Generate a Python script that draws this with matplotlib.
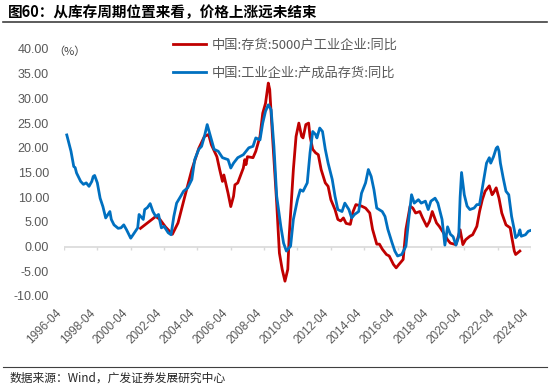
import matplotlib
matplotlib.use('Agg')
import matplotlib.pyplot as plt
from matplotlib.lines import Line2D
import pandas as pd

plt.rcParams['font.family'] = ['Liberation Sans', 'Noto Sans CJK SC']

CJK = ['Noto Sans CJK SC', 'DejaVu Sans']
GREY = '#595959'

title = '图60：从库存周期位置来看，价格上涨远未结束'
source = '数据来源：Wind，广发证券发展研究中心'
red_label = '中国:存货:5000户工业企业:同比'
blue_label = '中国:工业企业:产成品存货:同比'

red_dates = ['2000-11', '2001-05', '2001-10', '2002-01', '2002-05', '2002-10', '2003-02', '2003-07',
             '2003-12', '2004-05', '2004-09', '2004-12', '2005-02', '2005-06', '2005-08', '2005-10',
             '2005-11', '2006-02', '2006-04', '2006-06', '2006-07', '2006-09', '2007-01', '2007-02',
             '2007-03', '2007-04', '2007-08', '2007-10', '2008-01', '2008-03', '2008-05', '2008-07',
             '2008-08', '2008-10', '2009-01', '2009-03', '2009-05', '2009-07', '2009-09', '2009-10',
             '2010-01', '2010-03', '2010-05', '2010-07', '2010-08', '2010-10', '2010-12', '2011-01',
             '2011-03', '2011-05', '2011-07', '2011-09', '2011-12', '2012-02', '2012-04', '2012-07',
             '2012-09', '2012-11', '2013-01', '2013-03', '2013-06', '2013-08', '2013-10', '2014-02',
             '2014-05', '2014-08', '2014-10', '2015-01', '2015-03', '2015-05', '2015-08', '2015-10',
             '2016-01', '2016-03', '2016-05', '2016-08', '2016-10', '2017-01', '2017-03', '2017-05',
             '2017-08', '2017-10', '2018-01', '2018-03', '2018-05', '2018-08', '2018-10', '2019-01',
             '2019-04', '2019-06', '2019-10', '2020-01', '2020-03', '2020-05', '2020-08', '2020-10',
             '2021-01', '2021-03', '2021-05', '2021-07', '2021-10', '2021-12', '2022-01', '2022-03',
             '2022-05', '2022-07', '2022-10', '2023-01', '2023-02', '2023-04', '2023-05', '2023-08']
red_values = [3.7, 5.0, 6.1, 5.5, 4.0, 2.5, 4.8, 10.2,
              15.6, 19.9, 22.3, 22.7, 20.6, 18.2, 15.6, 13.2,
              14.5, 10.8, 8.1, 10.2, 12.5, 12.9, 15.9, 17.6,
              16.6, 18.2, 18.0, 19.3, 22.3, 27.0, 29.0, 33.1,
              31.8, 22.3, 8.8, -1.3, -4.6, -7.0, -4.6, 2.1,
              15.6, 22.3, 25.0, 22.3, 22.0, 24.7, 25.0, 22.3,
              19.7, 19.0, 18.6, 15.6, 12.9, 12.2, 9.5, 7.5,
              5.5, 5.2, 5.8, 4.7, 4.5, 7.1, 8.5, 8.2,
              7.8, 6.8, 3.5, 0.5, 0.5, -0.5, -1.6, -1.9,
              -3.6, -4.3, -3.6, -2.6, 3.5, 8.2, 7.8, 6.8,
              7.1, 5.8, 4.1, 5.1, 7.1, 4.8, 4.1, 2.8,
              1.4, 0.7, 0.4, 3.4, 0.4, 1.4, 2.1, 2.4,
              4.1, 7.1, 9.5, 11.2, 12.3, 10.5, 10.9, 11.9,
              9.8, 6.8, 4.4, 3.8, 2.1, -0.9, -1.6, -0.9]

blue_dates = ['1996-06', '1996-09', '1996-11', '1996-12', '1997-01', '1997-04', '1997-06', '1997-08',
              '1997-10', '1997-12', '1998-01', '1998-02', '1998-04', '1998-06', '1998-08', '1998-10',
              '1999-01', '1999-02', '1999-04', '1999-07', '1999-09', '1999-11', '2000-01', '2000-04',
              '2000-05', '2000-08', '2000-09', '2000-10', '2001-01', '2001-02', '2001-04', '2001-06',
              '2001-08', '2001-10', '2001-12', '2002-01', '2002-02', '2002-04', '2002-07', '2002-09',
              '2002-11', '2003-01', '2003-04', '2003-06', '2003-09', '2003-12', '2004-02', '2004-05',
              '2004-07', '2004-09', '2004-11', '2005-01', '2005-04', '2005-07', '2005-10', '2006-02',
              '2006-04', '2006-06', '2006-09', '2007-01', '2007-05', '2007-08', '2007-10', '2008-01',
              '2008-03', '2008-05', '2008-07', '2008-09', '2008-11', '2009-01', '2009-04', '2009-06',
              '2009-08', '2009-11', '2010-01', '2010-04', '2010-06', '2010-08', '2010-11', '2011-01',
              '2011-03', '2011-05', '2011-06', '2011-08', '2011-10', '2011-12', '2012-02', '2012-05',
              '2012-07', '2012-09', '2012-12', '2013-02', '2013-05', '2013-07', '2013-09', '2013-12',
              '2014-02', '2014-05', '2014-07', '2014-09', '2014-11', '2015-01', '2015-05', '2015-07',
              '2015-09', '2015-12', '2016-02', '2016-04', '2016-07', '2016-10', '2016-12', '2017-02',
              '2017-04', '2017-07', '2017-09', '2017-12', '2018-02', '2018-04', '2018-07', '2018-09',
              '2018-12', '2019-02', '2019-04', '2019-06', '2019-08', '2019-10', '2019-12', '2020-01',
              '2020-02', '2020-04', '2020-06', '2020-08', '2020-11', '2021-01', '2021-03', '2021-06',
              '2021-08', '2021-10', '2021-11', '2022-01', '2022-03', '2022-04', '2022-05', '2022-06',
              '2022-08', '2022-10', '2022-12', '2023-02', '2023-04', '2023-05', '2023-07', '2023-08',
              '2023-09', '2023-12', '2024-02', '2024-04']
blue_values = [22.6, 19.3, 16.2, 16.0, 14.9, 13.2, 12.6, 12.9,
               12.2, 13.2, 14.2, 14.4, 12.9, 9.8, 8.1, 5.8,
               7.1, 5.5, 4.4, 3.7, 3.8, 4.4, 3.4, 1.7,
               2.1, 3.4, 3.8, 6.5, 5.5, 7.5, 7.9, 8.7,
               7.1, 6.1, 6.5, 5.1, 3.8, 4.1, 2.8, 2.4,
               6.1, 8.8, 10.2, 11.2, 11.9, 13.6, 17.6, 19.7,
               20.3, 22.3, 24.7, 22.7, 19.7, 19.3, 18.0, 17.6,
               15.9, 16.9, 18.0, 18.6, 20.0, 20.3, 22.0, 21.6,
               25.0, 27.4, 28.7, 27.7, 20.3, 10.2, 4.1, 0.7,
               -0.9, 0.1, 5.5, 9.5, 11.5, 11.2, 12.9, 19.0,
               23.3, 22.7, 22.0, 24.0, 23.3, 19.7, 16.9, 13.6,
               10.2, 7.5, 7.1, 8.8, 7.5, 5.8, 6.5, 7.1,
               10.8, 12.9, 15.6, 14.2, 11.5, 7.8, 7.1, 6.1,
               3.5, 0.8, -0.9, -1.9, -1.6, 0.1, 5.5, 10.5,
               8.8, 9.5, 8.8, 9.2, 7.5, 9.2, 9.8, 8.8,
               5.5, 0.3, 4.0, 2.5, 2.0, 0.3, 2.0, 10.0,
               15.0, 10.5, 8.2, 7.5, 7.8, 8.5, 8.5, 13.5,
               16.9, 18.0, 16.9, 18.2, 19.9, 20.2, 19.3, 16.9,
               13.9, 11.2, 10.5, 6.1, 3.4, 1.8, 2.4, 3.4,
               2.1, 2.4, 3.1, 3.3]

tick_labels = ['1996-04', '1998-04', '2000-04', '2002-04', '2004-04', '2006-04', '2008-04', '2010-04',
               '2012-04', '2014-04', '2016-04', '2018-04', '2020-04', '2022-04', '2024-04']
y_ticks = [-10, -5, 0, 5, 10, 15, 20, 25, 30, 35, 40]

W, H = 550, 390
fig = plt.figure(figsize=(W / 100, H / 100), dpi=100)
ax = fig.add_axes([64 / W, 1 - 296 / H, (531 - 64) / W, (296 - 49) / H])

blue_x = pd.to_datetime(blue_dates)
red_x = pd.to_datetime(red_dates)
ticks = pd.to_datetime(tick_labels)

ax.axhline(0, color='#d9d9d9', lw=1.2, zorder=1)
ax.vlines(ticks, -0.7, 0, color='#d9d9d9', lw=1.0, zorder=1)

red_line, = ax.plot(red_x, red_values, color='#C00000', lw=2.0, label=red_label, zorder=3)
blue_line, = ax.plot(blue_x, blue_values, color='#0070C0', lw=2.0, label=blue_label, zorder=4)

ax.set_xlim(ticks[0], ticks[-1])
ax.set_ylim(-10, 40)
ax.set_yticks(y_ticks)
ax.set_yticklabels(['%.2f' % v for v in y_ticks])
ax.set_xticks(ticks)
ax.set_xticklabels(tick_labels, rotation=45, ha='right')

ax.tick_params(axis='y', length=0, pad=10.8, labelsize=9, labelcolor=GREY)
ax.tick_params(axis='x', length=0, pad=8, labelsize=8.5, labelcolor=GREY)
for s in ax.spines.values():
    s.set_visible(False)

fig.text(53 / W, 1 - 52 / H, '（%）', fontsize=8, va='center', color='#404040', family=CJK)

ax.legend(handles=[red_line, blue_line], loc='upper left',
          bbox_to_anchor=(173 / W, 1 - 39 / H), bbox_transform=fig.transFigure,
          frameon=False, handlelength=2.5, handletextpad=0.45, labelspacing=1.1,
          borderpad=0, borderaxespad=0, labelcolor=GREY,
          prop={'family': CJK, 'size': 9.5})

# title, rules, source
fig.text(8 / W, 1 - 12 / H, title, fontsize=10.5, fontweight='bold', va='center', family=CJK)
fig.add_artist(Line2D([3 / W, 547 / W], [1 - 22 / H] * 2, color='#404040', lw=1.2))
fig.add_artist(Line2D([3 / W, 547 / W], [1 - 367 / H] * 2, color='#404040', lw=0.8))
fig.text(10 / W, 1 - 378 / H, source, fontsize=8.5, va='center', color='#262626', family=CJK)

fig.savefig('out.png', dpi=100)
